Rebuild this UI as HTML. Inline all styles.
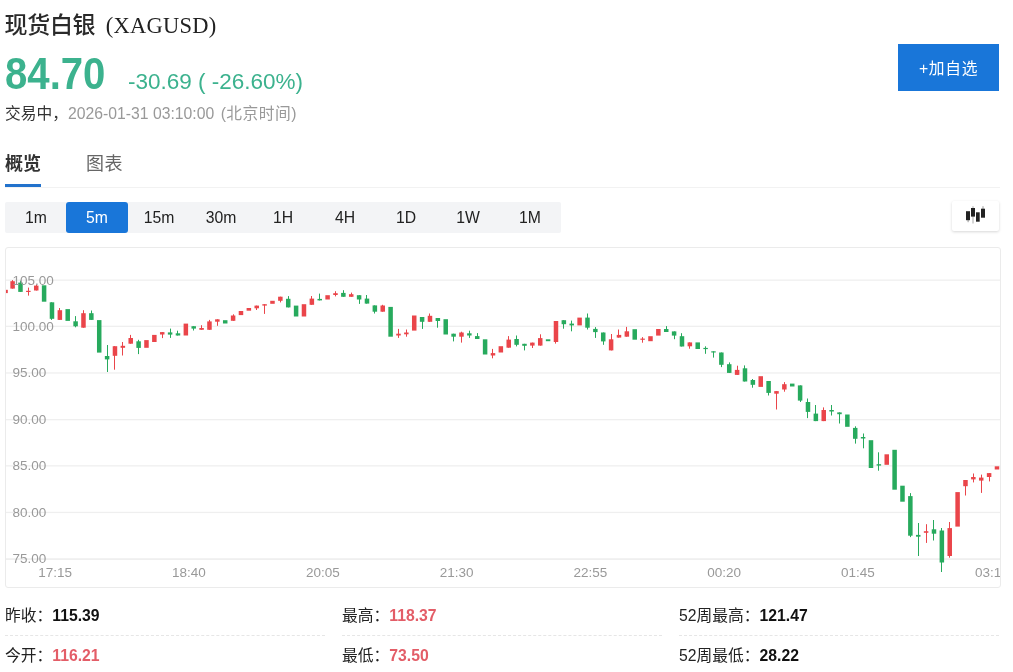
<!DOCTYPE html>
<html lang="zh-CN">
<head>
<meta charset="utf-8">
<title>现货白银 (XAGUSD)</title>
<style>
html,body{margin:0;padding:0;background:#fff;}
body{width:1013px;height:672px;position:relative;overflow:hidden;font-family:"Liberation Sans","Noto Sans CJK SC",sans-serif;color:#333;}
.abs{position:absolute;white-space:nowrap;}
#title{left:4.5px;top:10px;font-size:23px;line-height:30px;color:#2a2a2a;letter-spacing:-.3px;font-weight:500;}
#title .sym{font-family:"Liberation Serif","Noto Serif CJK SC",serif;font-size:22.5px;letter-spacing:.25px;margin-left:10.5px;color:#222;position:relative;top:-.5px;font-weight:normal;}
#price{left:5px;top:49.5px;font-size:44px;line-height:48px;font-weight:bold;color:#3cb28e;transform:scaleX(.912);transform-origin:0 0;}
#chg{left:128px;top:66.5px;font-size:22.5px;line-height:30px;color:#3cb28e;}
#status{left:5px;top:104px;font-size:15.75px;line-height:20px;color:#333;}
#stime{left:68px;top:104px;font-size:15.75px;line-height:20px;color:#999;}
#addbtn{left:898px;top:44px;width:101px;height:47px;background:#1976d9;color:#fff;font-size:15.75px;line-height:49px;text-align:center;letter-spacing:.7px;}
#tab1{left:5px;top:151px;font-size:18px;line-height:26px;font-weight:bold;color:#333;}
#tab2{left:86px;top:151px;font-size:18px;line-height:26px;color:#666;letter-spacing:.5px;}
#tabul{left:5px;top:184px;width:36px;height:3px;background:#2272cc;}
#tabline{left:5px;top:187px;width:995px;height:1px;background:#f2f2f2;}
#tbar{left:5px;top:202px;width:556px;height:31px;background:#f3f4f6;border-radius:2px;}
#tbar span{position:absolute;top:0;width:62px;height:31px;line-height:31px;text-align:center;font-size:15.75px;color:#222;}
#tbar span.on{background:#1976d9;color:#fff;border-radius:3px;}
#kbtn{left:952px;top:201px;width:47px;height:30px;background:#fff;border-radius:2px;box-shadow:0 1px 3px rgba(0,0,0,.16);}
#chart{left:5px;top:247px;width:994px;height:339px;border:1px solid #ebebeb;border-radius:3px;overflow:hidden;}
.row{font-size:15.75px;line-height:22px;color:#222;}
.row b{color:#111;}
.row b.r{color:#e35d67;}
.dash{height:0;border-top:1px dashed #e6e6e6;}
</style>
</head>
<body>
<div id="title" class="abs">现货白银<span class="sym">(XAGUSD)</span></div>
<div id="price" class="abs">84.70</div>
<div id="chg" class="abs">-30.69 ( -26.60%)</div>
<div id="status" class="abs">交易中，</div>
<div id="stime" class="abs">2026-01-31 03:10:00 <span style="letter-spacing:.5px;margin-left:2px">(北京时间)</span></div>
<div id="addbtn" class="abs">+加自选</div>
<div id="tab1" class="abs">概览</div>
<div id="tab2" class="abs">图表</div>
<div id="tabul" class="abs"></div>
<div id="tabline" class="abs"></div>
<div id="tbar" class="abs">
<span style="left:0">1m</span><span class="on" style="left:61px">5m</span><span style="left:123px">15m</span><span style="left:185px">30m</span><span style="left:247px">1H</span><span style="left:309px">4H</span><span style="left:370px">1D</span><span style="left:432px">1W</span><span style="left:494px">1M</span>
</div>
<div id="kbtn" class="abs">
<svg width="47" height="30" viewBox="0 0 47 30" style="display:block">
<rect x="15.6" y="19" width="1" height="2.2" fill="#999"/>
<rect x="14" y="10.2" width="4" height="9" fill="#222"/>
<rect x="20.5" y="5.2" width="1" height="17.3" fill="#aaa"/>
<rect x="19" y="7" width="4" height="8.6" fill="#222"/>
<rect x="24" y="11.3" width="3.7" height="9.4" fill="#222"/>
<rect x="30.5" y="5.2" width="1" height="3" fill="#999"/>
<rect x="29" y="7.7" width="4" height="9" fill="#222"/>
</svg>
</div>
<div id="chart" class="abs">
<svg id="csvg" width="994" height="339" viewBox="0 0 994 339" style="position:absolute;left:0;top:0;display:block">
<rect x="0" y="31.5" width="994" height="1.3" fill="#efefef"/>
<rect x="0" y="77.7" width="994" height="1.3" fill="#efefef"/>
<rect x="0" y="124.3" width="994" height="1.3" fill="#efefef"/>
<rect x="0" y="171.0" width="994" height="1.3" fill="#efefef"/>
<rect x="0" y="217.2" width="994" height="1.3" fill="#efefef"/>
<rect x="0" y="263.8" width="994" height="1.3" fill="#efefef"/>
<rect x="0" y="310.4" width="994" height="1.3" fill="#e9e9e9"/>
<g>
<rect x="0.00" y="41.8" width="1.8" height="3.3" fill="#ea454a"/>
<rect x="6" y="32.1" width="1" height="8.5" fill="#ea454a"/>
<rect x="4.35" y="33.2" width="4.5" height="7.4" fill="#ea454a"/>
<rect x="14" y="32.7" width="1" height="11.2" fill="#27aa5d"/>
<rect x="12.23" y="34.6" width="4.5" height="9.3" fill="#27aa5d"/>
<rect x="22" y="39.6" width="1" height="8.0" fill="#ea454a"/>
<rect x="20.10" y="42.8" width="4.5" height="1.2" fill="#ea454a"/>
<rect x="30" y="36.6" width="1" height="5.9" fill="#ea454a"/>
<rect x="27.98" y="37.6" width="4.5" height="4.9" fill="#ea454a"/>
<rect x="35.85" y="37.3" width="4.5" height="16.4" fill="#27aa5d"/>
<rect x="45" y="54.3" width="1" height="17.6" fill="#27aa5d"/>
<rect x="43.73" y="54.3" width="4.5" height="16.5" fill="#27aa5d"/>
<rect x="53" y="60.0" width="1" height="11.9" fill="#ea454a"/>
<rect x="51.60" y="62.2" width="4.5" height="9.7" fill="#ea454a"/>
<rect x="59.47" y="61.1" width="4.5" height="11.8" fill="#27aa5d"/>
<rect x="69" y="68.1" width="1" height="11.2" fill="#27aa5d"/>
<rect x="67.35" y="73.3" width="4.5" height="5.0" fill="#27aa5d"/>
<rect x="77" y="62.2" width="1" height="17.5" fill="#ea454a"/>
<rect x="75.22" y="65.2" width="4.5" height="14.5" fill="#ea454a"/>
<rect x="85" y="62.5" width="1" height="9.4" fill="#27aa5d"/>
<rect x="83.10" y="65.2" width="4.5" height="6.7" fill="#27aa5d"/>
<rect x="90.97" y="72.1" width="4.5" height="32.5" fill="#27aa5d"/>
<rect x="101" y="97.0" width="1" height="27.0" fill="#27aa5d"/>
<rect x="98.85" y="108.0" width="4.5" height="3.4" fill="#27aa5d"/>
<rect x="108" y="98.2" width="1" height="23.5" fill="#ea454a"/>
<rect x="106.72" y="98.2" width="4.5" height="9.6" fill="#ea454a"/>
<rect x="116" y="94.0" width="1" height="13.5" fill="#ea454a"/>
<rect x="114.60" y="97.8" width="4.5" height="2.0" fill="#ea454a"/>
<rect x="124" y="86.9" width="1" height="8.8" fill="#ea454a"/>
<rect x="122.47" y="90.0" width="4.5" height="5.7" fill="#ea454a"/>
<rect x="132" y="91.8" width="1" height="14.3" fill="#27aa5d"/>
<rect x="130.35" y="93.3" width="4.5" height="6.6" fill="#27aa5d"/>
<rect x="138.22" y="92.1" width="4.5" height="7.7" fill="#ea454a"/>
<rect x="146.10" y="86.9" width="4.5" height="7.1" fill="#ea454a"/>
<rect x="156" y="84.1" width="1" height="6.0" fill="#ea454a"/>
<rect x="153.97" y="84.1" width="4.5" height="2.4" fill="#ea454a"/>
<rect x="164" y="80.6" width="1" height="9.3" fill="#27aa5d"/>
<rect x="161.85" y="84.4" width="4.5" height="2.2" fill="#27aa5d"/>
<rect x="171" y="82.7" width="1" height="4.8" fill="#27aa5d"/>
<rect x="169.72" y="85.3" width="4.5" height="2.2" fill="#27aa5d"/>
<rect x="177.60" y="75.6" width="4.5" height="11.9" fill="#ea454a"/>
<rect x="187" y="78.2" width="1" height="4.3" fill="#27aa5d"/>
<rect x="185.47" y="78.2" width="4.5" height="2.4" fill="#27aa5d"/>
<rect x="195" y="77.2" width="1" height="4.6" fill="#ea454a"/>
<rect x="193.35" y="80.0" width="4.5" height="1.8" fill="#ea454a"/>
<rect x="203" y="71.9" width="1" height="9.9" fill="#ea454a"/>
<rect x="201.22" y="73.4" width="4.5" height="8.4" fill="#ea454a"/>
<rect x="211" y="71.3" width="1" height="6.5" fill="#ea454a"/>
<rect x="209.10" y="71.3" width="4.5" height="2.4" fill="#ea454a"/>
<rect x="216.97" y="72.2" width="4.5" height="3.3" fill="#27aa5d"/>
<rect x="227" y="66.3" width="1" height="6.5" fill="#ea454a"/>
<rect x="224.85" y="67.5" width="4.5" height="5.3" fill="#ea454a"/>
<rect x="232.72" y="63.0" width="4.5" height="4.1" fill="#ea454a"/>
<rect x="240.60" y="60.0" width="4.5" height="2.7" fill="#ea454a"/>
<rect x="250" y="57.6" width="1" height="4.4" fill="#ea454a"/>
<rect x="248.48" y="57.6" width="4.5" height="2.7" fill="#ea454a"/>
<rect x="258" y="56.2" width="1" height="9.7" fill="#ea454a"/>
<rect x="256.35" y="56.2" width="4.5" height="1.4" fill="#ea454a"/>
<rect x="264.23" y="52.8" width="4.5" height="3.0" fill="#ea454a"/>
<rect x="274" y="48.7" width="1" height="5.7" fill="#ea454a"/>
<rect x="272.10" y="48.7" width="4.5" height="4.1" fill="#ea454a"/>
<rect x="282" y="48.1" width="1" height="11.3" fill="#27aa5d"/>
<rect x="279.98" y="50.8" width="4.5" height="8.6" fill="#27aa5d"/>
<rect x="287.85" y="57.6" width="4.5" height="10.9" fill="#27aa5d"/>
<rect x="295.73" y="56.2" width="4.5" height="12.3" fill="#ea454a"/>
<rect x="305" y="48.0" width="1" height="8.8" fill="#ea454a"/>
<rect x="303.60" y="50.6" width="4.5" height="6.2" fill="#ea454a"/>
<rect x="313" y="45.6" width="1" height="6.8" fill="#27aa5d"/>
<rect x="311.48" y="50.9" width="4.5" height="1.5" fill="#27aa5d"/>
<rect x="319.35" y="47.2" width="4.5" height="4.3" fill="#ea454a"/>
<rect x="329" y="43.2" width="1" height="5.2" fill="#ea454a"/>
<rect x="327.23" y="45.2" width="4.5" height="1.8" fill="#ea454a"/>
<rect x="337" y="42.2" width="1" height="6.6" fill="#27aa5d"/>
<rect x="335.10" y="44.9" width="4.5" height="3.9" fill="#27aa5d"/>
<rect x="345" y="44.6" width="1" height="4.2" fill="#ea454a"/>
<rect x="342.98" y="46.2" width="4.5" height="2.6" fill="#ea454a"/>
<rect x="353" y="47.2" width="1" height="8.7" fill="#27aa5d"/>
<rect x="350.85" y="47.2" width="4.5" height="4.3" fill="#27aa5d"/>
<rect x="360" y="47.0" width="1" height="8.6" fill="#27aa5d"/>
<rect x="358.73" y="50.6" width="4.5" height="5.0" fill="#27aa5d"/>
<rect x="368" y="57.4" width="1" height="8.1" fill="#27aa5d"/>
<rect x="366.60" y="57.4" width="4.5" height="6.3" fill="#27aa5d"/>
<rect x="376" y="56.8" width="1" height="6.9" fill="#ea454a"/>
<rect x="374.48" y="57.5" width="4.5" height="6.2" fill="#ea454a"/>
<rect x="382.35" y="58.9" width="4.5" height="29.8" fill="#27aa5d"/>
<rect x="392" y="80.9" width="1" height="9.0" fill="#ea454a"/>
<rect x="390.23" y="85.7" width="4.5" height="1.8" fill="#ea454a"/>
<rect x="400" y="81.5" width="1" height="7.2" fill="#ea454a"/>
<rect x="398.10" y="84.5" width="4.5" height="1.8" fill="#ea454a"/>
<rect x="405.98" y="67.5" width="4.5" height="15.1" fill="#ea454a"/>
<rect x="416" y="69.0" width="1" height="11.9" fill="#27aa5d"/>
<rect x="413.85" y="69.0" width="4.5" height="4.8" fill="#27aa5d"/>
<rect x="423" y="65.5" width="1" height="8.3" fill="#ea454a"/>
<rect x="421.73" y="67.8" width="4.5" height="6.0" fill="#ea454a"/>
<rect x="431" y="70.0" width="1" height="9.7" fill="#27aa5d"/>
<rect x="429.60" y="70.0" width="4.5" height="3.0" fill="#27aa5d"/>
<rect x="437.48" y="71.2" width="4.5" height="15.3" fill="#27aa5d"/>
<rect x="447" y="85.7" width="1" height="7.7" fill="#27aa5d"/>
<rect x="445.35" y="85.7" width="4.5" height="3.0" fill="#27aa5d"/>
<rect x="455" y="83.7" width="1" height="10.9" fill="#ea454a"/>
<rect x="453.23" y="84.5" width="4.5" height="4.2" fill="#ea454a"/>
<rect x="463" y="82.7" width="1" height="7.2" fill="#27aa5d"/>
<rect x="461.10" y="85.3" width="4.5" height="2.2" fill="#27aa5d"/>
<rect x="471" y="85.1" width="1" height="5.9" fill="#27aa5d"/>
<rect x="468.98" y="88.1" width="4.5" height="2.9" fill="#27aa5d"/>
<rect x="476.85" y="91.3" width="4.5" height="15.2" fill="#27aa5d"/>
<rect x="486" y="100.9" width="1" height="9.4" fill="#ea454a"/>
<rect x="484.73" y="105.1" width="4.5" height="2.4" fill="#ea454a"/>
<rect x="492.60" y="98.2" width="4.5" height="6.3" fill="#ea454a"/>
<rect x="502" y="88.1" width="1" height="11.6" fill="#ea454a"/>
<rect x="500.48" y="91.6" width="4.5" height="8.1" fill="#ea454a"/>
<rect x="510" y="87.5" width="1" height="10.9" fill="#27aa5d"/>
<rect x="508.35" y="91.0" width="4.5" height="5.8" fill="#27aa5d"/>
<rect x="518" y="95.8" width="1" height="6.6" fill="#27aa5d"/>
<rect x="516.23" y="95.8" width="4.5" height="2.0" fill="#27aa5d"/>
<rect x="526" y="94.6" width="1" height="5.4" fill="#ea454a"/>
<rect x="524.10" y="94.6" width="4.5" height="3.0" fill="#ea454a"/>
<rect x="534" y="86.3" width="1" height="11.3" fill="#ea454a"/>
<rect x="531.98" y="90.1" width="4.5" height="7.5" fill="#ea454a"/>
<rect x="539.85" y="91.3" width="4.5" height="1.9" fill="#27aa5d"/>
<rect x="549" y="73.0" width="1" height="22.6" fill="#ea454a"/>
<rect x="547.73" y="73.0" width="4.5" height="21.0" fill="#ea454a"/>
<rect x="557" y="72.2" width="1" height="8.5" fill="#27aa5d"/>
<rect x="555.60" y="72.2" width="4.5" height="4.0" fill="#27aa5d"/>
<rect x="565" y="72.6" width="1" height="10.7" fill="#27aa5d"/>
<rect x="563.48" y="75.6" width="4.5" height="1.8" fill="#27aa5d"/>
<rect x="571.35" y="69.6" width="4.5" height="7.8" fill="#ea454a"/>
<rect x="581" y="65.5" width="1" height="16.0" fill="#27aa5d"/>
<rect x="579.23" y="69.6" width="4.5" height="10.1" fill="#27aa5d"/>
<rect x="589" y="79.1" width="1" height="10.8" fill="#27aa5d"/>
<rect x="587.10" y="80.9" width="4.5" height="3.2" fill="#27aa5d"/>
<rect x="597" y="84.5" width="1" height="12.3" fill="#27aa5d"/>
<rect x="594.98" y="84.5" width="4.5" height="8.9" fill="#27aa5d"/>
<rect x="605" y="86.0" width="1" height="16.4" fill="#ea454a"/>
<rect x="602.85" y="91.3" width="4.5" height="11.1" fill="#ea454a"/>
<rect x="612" y="81.5" width="1" height="8.1" fill="#ea454a"/>
<rect x="610.73" y="86.9" width="4.5" height="2.7" fill="#ea454a"/>
<rect x="620" y="78.9" width="1" height="9.8" fill="#ea454a"/>
<rect x="618.60" y="83.3" width="4.5" height="5.4" fill="#ea454a"/>
<rect x="626.48" y="81.2" width="4.5" height="10.5" fill="#27aa5d"/>
<rect x="636" y="89.1" width="1" height="5.6" fill="#ea454a"/>
<rect x="634.35" y="90.6" width="4.5" height="1.2" fill="#ea454a"/>
<rect x="642.23" y="88.2" width="4.5" height="5.0" fill="#ea454a"/>
<rect x="650.10" y="81.0" width="4.5" height="6.6" fill="#ea454a"/>
<rect x="660" y="78.1" width="1" height="5.9" fill="#27aa5d"/>
<rect x="657.98" y="81.0" width="4.5" height="3.0" fill="#27aa5d"/>
<rect x="668" y="83.4" width="1" height="7.8" fill="#27aa5d"/>
<rect x="665.85" y="83.4" width="4.5" height="4.2" fill="#27aa5d"/>
<rect x="675" y="85.2" width="1" height="13.3" fill="#27aa5d"/>
<rect x="673.73" y="88.2" width="4.5" height="10.3" fill="#27aa5d"/>
<rect x="683" y="94.4" width="1" height="6.3" fill="#ea454a"/>
<rect x="681.60" y="94.4" width="4.5" height="3.9" fill="#ea454a"/>
<rect x="689.48" y="94.4" width="4.5" height="6.6" fill="#27aa5d"/>
<rect x="699" y="98.3" width="1" height="7.5" fill="#27aa5d"/>
<rect x="697.35" y="99.9" width="4.5" height="1.2" fill="#27aa5d"/>
<rect x="707" y="103.3" width="1" height="6.3" fill="#27aa5d"/>
<rect x="705.23" y="103.3" width="4.5" height="1.2" fill="#27aa5d"/>
<rect x="715" y="104.5" width="1" height="14.6" fill="#27aa5d"/>
<rect x="713.10" y="104.5" width="4.5" height="12.3" fill="#27aa5d"/>
<rect x="723" y="114.4" width="1" height="10.5" fill="#27aa5d"/>
<rect x="720.98" y="116.2" width="4.5" height="8.7" fill="#27aa5d"/>
<rect x="731" y="117.7" width="1" height="9.2" fill="#ea454a"/>
<rect x="728.85" y="121.9" width="4.5" height="5.0" fill="#ea454a"/>
<rect x="738" y="117.4" width="1" height="16.1" fill="#27aa5d"/>
<rect x="736.73" y="120.3" width="4.5" height="13.2" fill="#27aa5d"/>
<rect x="746" y="131.0" width="1" height="8.7" fill="#27aa5d"/>
<rect x="744.60" y="132.0" width="4.5" height="4.8" fill="#27aa5d"/>
<rect x="752.48" y="128.2" width="4.5" height="10.7" fill="#ea454a"/>
<rect x="762" y="133.0" width="1" height="14.5" fill="#27aa5d"/>
<rect x="760.35" y="133.0" width="4.5" height="11.9" fill="#27aa5d"/>
<rect x="770" y="143.1" width="1" height="18.4" fill="#ea454a"/>
<rect x="768.23" y="143.1" width="4.5" height="2.6" fill="#ea454a"/>
<rect x="778" y="134.1" width="1" height="9.6" fill="#ea454a"/>
<rect x="776.10" y="136.2" width="4.5" height="5.3" fill="#ea454a"/>
<rect x="783.98" y="135.6" width="4.5" height="2.9" fill="#27aa5d"/>
<rect x="794" y="137.4" width="1" height="16.6" fill="#27aa5d"/>
<rect x="791.85" y="137.4" width="4.5" height="15.2" fill="#27aa5d"/>
<rect x="801" y="150.5" width="1" height="19.6" fill="#27aa5d"/>
<rect x="799.73" y="154.0" width="4.5" height="9.9" fill="#27aa5d"/>
<rect x="809" y="157.0" width="1" height="16.1" fill="#27aa5d"/>
<rect x="807.60" y="165.6" width="4.5" height="7.5" fill="#27aa5d"/>
<rect x="817" y="159.4" width="1" height="13.7" fill="#ea454a"/>
<rect x="815.48" y="162.0" width="4.5" height="11.1" fill="#ea454a"/>
<rect x="825" y="157.0" width="1" height="10.5" fill="#27aa5d"/>
<rect x="823.35" y="162.0" width="4.5" height="1.5" fill="#27aa5d"/>
<rect x="833" y="164.4" width="1" height="11.1" fill="#27aa5d"/>
<rect x="831.23" y="164.4" width="4.5" height="1.8" fill="#27aa5d"/>
<rect x="839.10" y="166.5" width="4.5" height="12.3" fill="#27aa5d"/>
<rect x="849" y="178.3" width="1" height="17.3" fill="#27aa5d"/>
<rect x="846.98" y="179.9" width="4.5" height="10.9" fill="#27aa5d"/>
<rect x="857" y="185.5" width="1" height="14.8" fill="#27aa5d"/>
<rect x="854.85" y="189.0" width="4.5" height="1.5" fill="#27aa5d"/>
<rect x="862.73" y="192.2" width="4.5" height="27.8" fill="#27aa5d"/>
<rect x="872" y="204.3" width="1" height="18.4" fill="#27aa5d"/>
<rect x="870.60" y="216.2" width="4.5" height="1.4" fill="#27aa5d"/>
<rect x="878.48" y="206.3" width="4.5" height="10.5" fill="#ea454a"/>
<rect x="886.35" y="201.8" width="4.5" height="39.9" fill="#27aa5d"/>
<rect x="894.23" y="237.7" width="4.5" height="16.0" fill="#27aa5d"/>
<rect x="904" y="245.1" width="1" height="44.0" fill="#27aa5d"/>
<rect x="902.10" y="248.1" width="4.5" height="39.6" fill="#27aa5d"/>
<rect x="912" y="275.0" width="1" height="33.0" fill="#27aa5d"/>
<rect x="909.98" y="286.9" width="4.5" height="1.8" fill="#27aa5d"/>
<rect x="920" y="276.2" width="1" height="18.7" fill="#ea454a"/>
<rect x="917.85" y="283.2" width="4.5" height="1.6" fill="#ea454a"/>
<rect x="927" y="272.0" width="1" height="20.5" fill="#27aa5d"/>
<rect x="925.73" y="281.3" width="4.5" height="4.4" fill="#27aa5d"/>
<rect x="935" y="280.0" width="1" height="44.0" fill="#27aa5d"/>
<rect x="933.60" y="282.5" width="4.5" height="32.0" fill="#27aa5d"/>
<rect x="943" y="274.0" width="1" height="35.7" fill="#ea454a"/>
<rect x="941.48" y="280.1" width="4.5" height="27.9" fill="#ea454a"/>
<rect x="949.35" y="244.1" width="4.5" height="34.5" fill="#ea454a"/>
<rect x="959" y="232.0" width="1" height="15.5" fill="#ea454a"/>
<rect x="957.23" y="232.0" width="4.5" height="6.2" fill="#ea454a"/>
<rect x="967" y="225.5" width="1" height="8.9" fill="#ea454a"/>
<rect x="965.10" y="229.0" width="4.5" height="2.4" fill="#ea454a"/>
<rect x="975" y="226.6" width="1" height="18.3" fill="#ea454a"/>
<rect x="972.98" y="229.6" width="4.5" height="3.0" fill="#ea454a"/>
<rect x="983" y="225.1" width="1" height="8.3" fill="#ea454a"/>
<rect x="980.85" y="225.1" width="4.5" height="3.9" fill="#ea454a"/>
<rect x="988.73" y="218.3" width="4.5" height="3.2" fill="#ea454a"/>
</g>
<g font-family="'Liberation Sans',sans-serif" font-size="13.5" fill="#999">
<text x="6.5" y="36.5">105.00</text>
<text x="6.5" y="82.7">100.00</text>
<text x="6.5" y="129.3">95.00</text>
<text x="6.5" y="175.9">90.00</text>
<text x="6.5" y="222.2">85.00</text>
<text x="6.5" y="268.7">80.00</text>
<text x="6.5" y="315.3">75.00</text>
<text x="49.2" y="329.0" text-anchor="middle">17:15</text>
<text x="183.0" y="329.0" text-anchor="middle">18:40</text>
<text x="316.8" y="329.0" text-anchor="middle">20:05</text>
<text x="450.6" y="329.0" text-anchor="middle">21:30</text>
<text x="584.4" y="329.0" text-anchor="middle">22:55</text>
<text x="718.2" y="329.0" text-anchor="middle">00:20</text>
<text x="852.0" y="329.0" text-anchor="middle">01:45</text>
<text x="985.8" y="329.0" text-anchor="middle">03:10</text>
</g>
</svg>
</div>
<div class="abs row" style="left:5px;top:605px">昨收：<b>115.39</b></div>
<div class="abs row" style="left:342px;top:605px">最高：<b class="r">118.37</b></div>
<div class="abs row" style="left:679px;top:605px">52周最高：<b>121.47</b></div>
<div class="abs dash" style="left:5px;top:635px;width:320px"></div>
<div class="abs dash" style="left:342px;top:635px;width:320px"></div>
<div class="abs dash" style="left:679px;top:635px;width:320px"></div>
<div class="abs row" style="left:5px;top:645px">今开：<b class="r">116.21</b></div>
<div class="abs row" style="left:342px;top:645px">最低：<b class="r">73.50</b></div>
<div class="abs row" style="left:679px;top:645px">52周最低：<b>28.22</b></div>
</body>
</html>
